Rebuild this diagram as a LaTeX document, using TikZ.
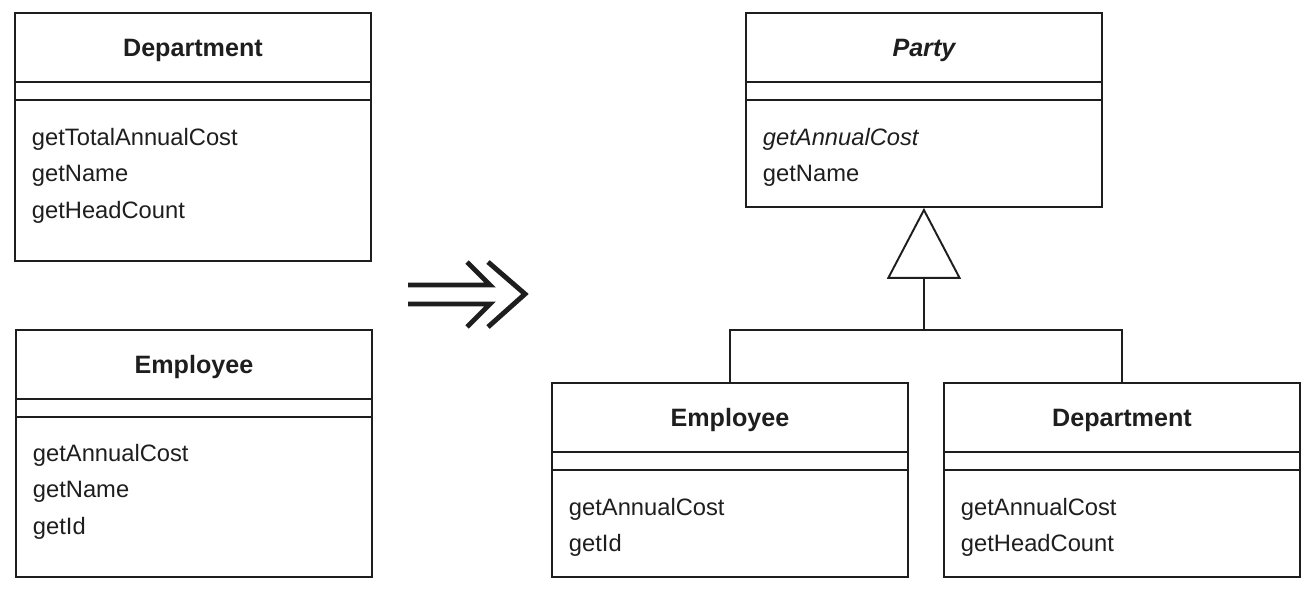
\documentclass[tikz,border=0pt]{standalone}
\usepackage{fontspec}
\setmainfont{Liberation Sans}
\usetikzlibrary{arrows.meta, calc}
\definecolor{umlink}{RGB}{30, 30, 30}
\tikzset{
  classbox/.style={draw, minimum width=7.12cm, anchor=north west, inner sep=0pt},
  classname/.style={font=\fontsize{14.3}{17}\selectfont\bfseries},
  methods/.style={font=\fontsize{13.5}{20.8}\selectfont, align=left, anchor=north west, inner sep=0pt},
}

\begin{document}
\begin{tikzpicture}[x=0.02cm, y=-0.02cm, line width=1.1pt, color=umlink]
        \useasboundingbox (0,0) rectangle (1314,592);

        % Before: two separate classes
        \node[classbox, minimum height=4.96cm] (deptOld) at (14,12) {};
        \node[classname] at ($(deptOld.north)+(0,38)$) {Department};
        \node[methods] at ($(deptOld.north west)+(17,115)$) {getTotalAnnualCost\\getName\\getHeadCount};

        \node[classbox, minimum height=4.94cm] (empOld) at (15,329) {};
        \node[classname] at ($(empOld.north)+(0,38)$) {Employee};
        \node[methods] at ($(empOld.north west)+(17,114)$) {getAnnualCost\\getName\\getId};

        % Refactoring arrow
        \draw[line width=2.8pt] (408,285) -- (490,285) -- (467,262)
              (408,304) -- (490,304) -- (467,327)
              (488,262) -- (525,294) -- (488,327);

        % After: superclass and subclasses
        \node[classbox, minimum height=3.88cm] (party) at (745,12) {};
        \node[classname] at ($(party.north)+(0,38)$) {\itshape Party};
        \node[methods] at ($(party.north west)+(17,115)$) {\itshape getAnnualCost\\getName};

        \node[classbox, minimum height=3.88cm] (empNew) at (551,382) {};
        \node[classname] at ($(empNew.north)+(0,38)$) {Employee};
        \node[methods] at ($(empNew.north west)+(17,115)$) {getAnnualCost\\getId};

        \node[classbox, minimum height=3.88cm] (deptNew) at (943,382) {};
        \node[classname] at ($(deptNew.north)+(0,38)$) {Department};
        \node[methods] at ($(deptNew.north west)+(17,115)$) {getAnnualCost\\getHeadCount};

        % Compartment lines
        \foreach \c in {deptOld, empOld, party, empNew, deptNew}
            \draw ($(\c.north west)+(0,70)$) -- ($(\c.north east)+(0,70)$)
                  ($(\c.north west)+(0,88)$) -- ($(\c.north east)+(0,88)$);

        % Generalization
        \coordinate (bus) at ($(party.south)+(0,122)$);
        \draw (empNew.north) |- (bus) -| (deptNew.north);
        \draw[-{Triangle[open, length=1.42cm, width=1.48cm]}] (bus) -- (party.south);
    \end{tikzpicture}
\end{document}
